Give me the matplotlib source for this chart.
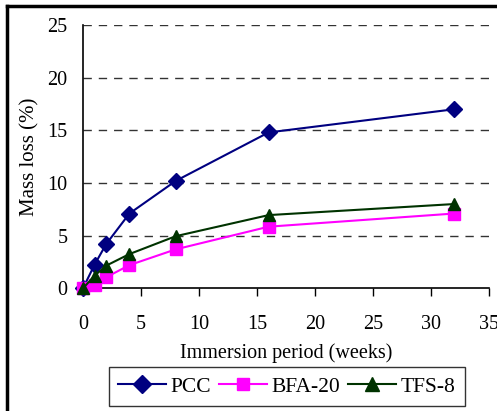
import matplotlib
matplotlib.use("Agg")
import matplotlib.pyplot as plt
from matplotlib.lines import Line2D

plt.rcParams['font.family'] = ['Liberation Serif', 'DejaVu Serif']

# data
weeks = [0, 1, 2, 4, 8, 16, 32]
pcc = [0, 2.25, 4.2, 7.1, 10.2, 14.8, 17.0]
bfa20 = [0, 0.3, 1.05, 2.2, 3.7, 5.85, 7.1]
tfs8 = [0, 1.2, 2.15, 3.25, 4.95, 6.95, 8.0]

xticks = [0, 5, 10, 15, 20, 25, 30, 35]
yticks = [0, 5, 10, 15, 20, 25]

W, H = 497, 411
fig = plt.figure(figsize=(W/100, H/100), dpi=100)
ax = fig.add_axes([83/W, 1-288.3/H, (489-83)/W, (288.3-25)/H])

ax.plot(weeks, pcc, color='#000080', marker='D', ms=8, lw=1.5, label='PCC', clip_on=False, zorder=3)
ax.plot(weeks, bfa20, color='#FF00FF', marker='s', ms=8, lw=1.5, label='BFA-20', clip_on=False, zorder=3)
ax.plot(weeks, tfs8, color='#003300', marker='^', ms=9, lw=1.5, label='TFS-8', clip_on=False, zorder=4)

ax.set_xlim(0, 35)
ax.set_ylim(0, 25)
ax.set_xticks(xticks)
ax.set_yticks(yticks)
ax.tick_params(axis='x', direction='out', length=6, width=1, labelsize=14.5, pad=13)
ax.tick_params(axis='y', length=0, labelsize=14.5, pad=11)
for s in ['top', 'right']:
    ax.spines[s].set_visible(False)
for s in ['left', 'bottom']:
    ax.spines[s].set_linewidth(1.2)
for y in yticks[1:]:
    ax.axhline(y, color='#333333', lw=1, dashes=(6, 5), zorder=1)

ax.set_xlabel('Immersion period (weeks)', fontsize=14.5, labelpad=7)
ax.set_ylabel('Mass loss (%)', fontsize=15, labelpad=6)

leg = ax.legend(loc='upper center', bbox_to_anchor=(0.502, -0.299), ncol=3, fontsize=15.5,
                frameon=True, fancybox=False, edgecolor='black', handlelength=2.2,
                handletextpad=0.23, columnspacing=0.37, borderpad=0.45, borderaxespad=0,
                markerscale=1.1)
leg.get_frame().set_linewidth(1)

# outer frame (top and left edges only visible)
fig.add_artist(Line2D([7/W, 1], [1-6/H, 1-6/H], color='black', lw=2.5))
fig.add_artist(Line2D([7/W, 7/W], [0, 1-6/H], color='black', lw=2.5))

fig.savefig('out.png', dpi=100)
